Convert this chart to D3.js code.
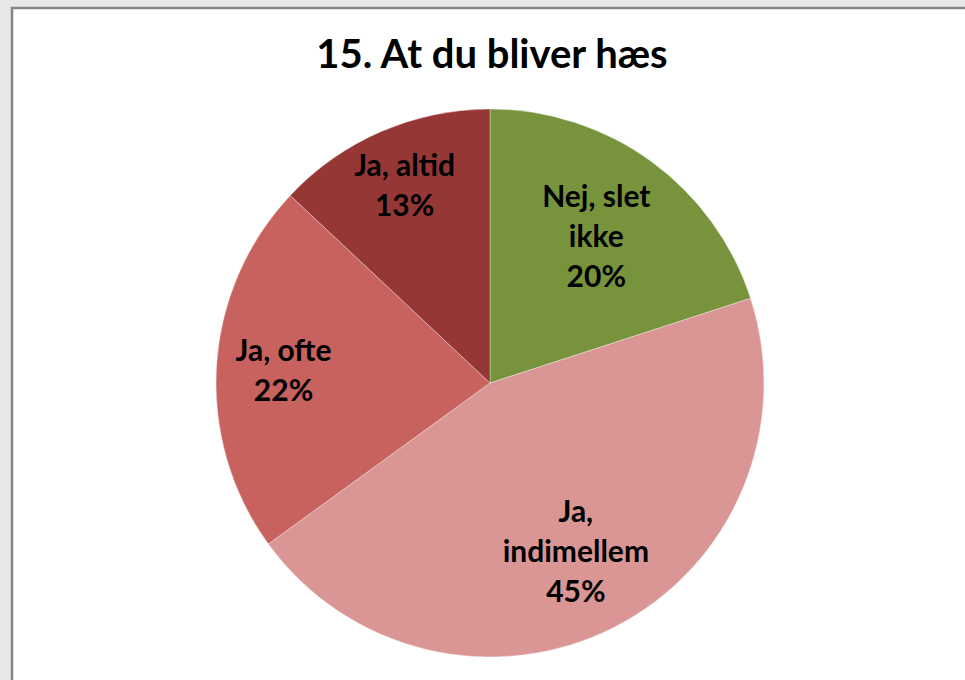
<!DOCTYPE html>
<html>
<head>
<meta charset="utf-8">
<script src="https://cdn.jsdelivr.net/npm/d3@7"></script>
<style>
  html, body { margin: 0; padding: 0; background: #e8e8e8; }
  svg { display: block; }
</style>
</head>
<body>
<svg id="chart" width="965" height="680"></svg>
<script>
const title = "15. At du bliver hæs";
const categories = ["Nej, slet ikke", "Ja, indimellem", "Ja, ofte", "Ja, altid"];
const values = [20, 45, 22, 13];
const labelLines = [["Nej, slet", "ikke", "20%"], ["Ja,", "indimellem", "45%"], ["Ja, ofte", "22%"], ["Ja, altid", "13%"]];
const colors = ["#77933C", "#D99694", "#C8625F", "#953735"];
const labelRadiusFrac = [0.66, 0.69, 0.755, 0.785];

const W = 965, H = 680;
const svg = d3.select("#chart");

svg.append("rect").attr("x", 0).attr("y", 0).attr("width", W).attr("height", H).attr("fill", "#e8e8e8");
svg.append("rect").attr("x", 12).attr("y", 8).attr("width", W + 20).attr("height", H + 20)
  .attr("fill", "#ffffff").attr("stroke", "#868686").attr("stroke-width", 2.5);

svg.append("text")
  .attr("x", 492).attr("y", 68)
  .attr("text-anchor", "middle")
  .attr("font-family", "Lato, 'Open Sans', sans-serif")
  .attr("font-weight", "bold")
  .attr("font-size", 40)
  .attr("fill", "#000")
  .text(title);

const cx = 490, cy = 383, r = 274;
const g = svg.append("g").attr("transform", `translate(${cx},${cy})`);

const pie = d3.pie().sort(null).value(d => d.v);
const data = pie(categories.map((c, i) => ({ c, v: values[i], i })));
const arc = d3.arc().innerRadius(0).outerRadius(r);

g.selectAll("path.slice").data(data).join("path")
  .attr("class", "slice")
  .attr("d", arc)
  .attr("fill", d => colors[d.data.i])
  .attr("stroke", "#ffffff")
  .attr("stroke-opacity", 0.35)
  .attr("stroke-width", 1);

const lineH = 40, fs = 30;
data.forEach(d => {
  const i = d.data.i;
  const la = d3.arc().innerRadius(r * labelRadiusFrac[i]).outerRadius(r * labelRadiusFrac[i]);
  const [lx, ly] = la.centroid(d);
  const lines = labelLines[i];
  const t = g.append("text")
    .attr("text-anchor", "middle")
    .attr("font-family", "Lato, 'Open Sans', sans-serif")
    .attr("font-weight", "bold")
    .attr("font-size", fs)
    .attr("fill", "#000");
  lines.forEach((s, k) => {
    t.append("tspan")
      .attr("x", lx)
      .attr("y", ly + (k - (lines.length - 1) / 2) * lineH)
      .attr("dy", "0.35em")
      .text(s);
  });
});
</script>
</body>
</html>
